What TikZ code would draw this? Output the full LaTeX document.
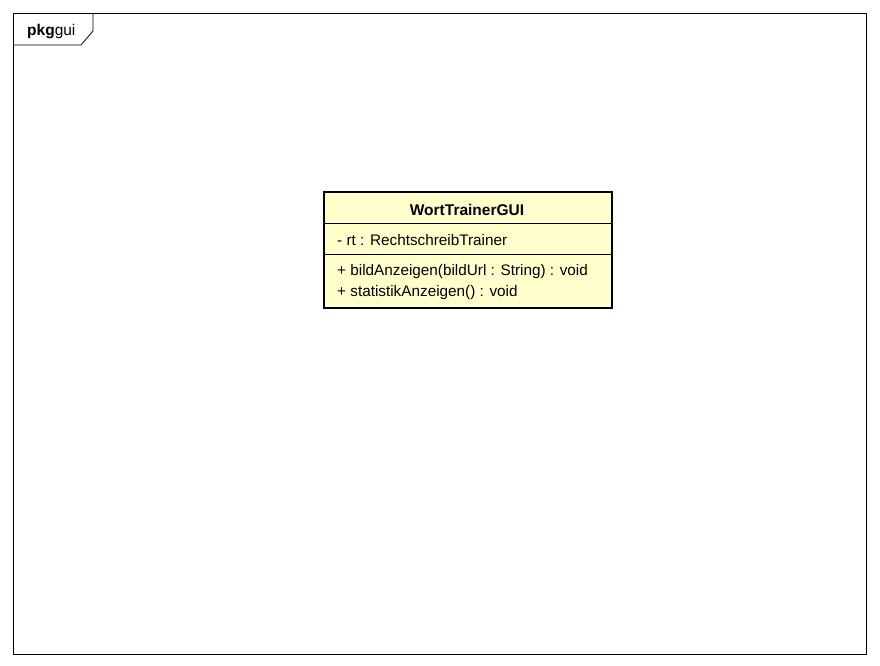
\documentclass[tikz,border=0pt]{standalone}
\usepackage{fontspec}
\setmainfont{Liberation Sans}
\definecolor{classfill}{RGB}{255,255,204}
\tikzset{
  frameline/.style={draw=black, line width=0.8pt},
  classbox/.style={draw=black, line width=2.6pt, fill=classfill},
  sepline/.style={draw=black, line width=0.8pt},
  txt/.style={inner sep=0pt, font=\fontsize{15.3}{18}\selectfont},
}
\begin{document}
\begin{tikzpicture}[x=1pt,y=-1pt]
\useasboundingbox (0,0) rectangle (880,666);
\fill[white] (0,0) rectangle (880,666);
% package frame
\draw[frameline] (13,13) rectangle (866,654);
\draw[frameline] (13,45) -- (81,45) -- (93,31) -- (93,13);
\node[txt, anchor=west, font=\fontsize{15.5}{18}\selectfont] (pkg) at (27,32) {\textbf{pkg}gui};
% class
\draw[classbox] (324,192) rectangle (612,308);
\draw[sepline] (324,223) -- (612,223);
\draw[sepline] (324,254) -- (612,254);
\node[txt, font=\fontsize{15.5}{18}\selectfont\bfseries] (title) at (467,210) {WortTrainerGUI};
\node[txt, anchor=west] (attr) at (337,240.5) {- rt : RechtschreibTrainer};
\node[txt, anchor=west] (m1) at (337,271.5) {+ bildAnzeigen(bildUrl : String) : void};
\node[txt, anchor=west] (m2) at (337,292.5) {+ statistikAnzeigen() : void};
\end{tikzpicture}
\end{document}
